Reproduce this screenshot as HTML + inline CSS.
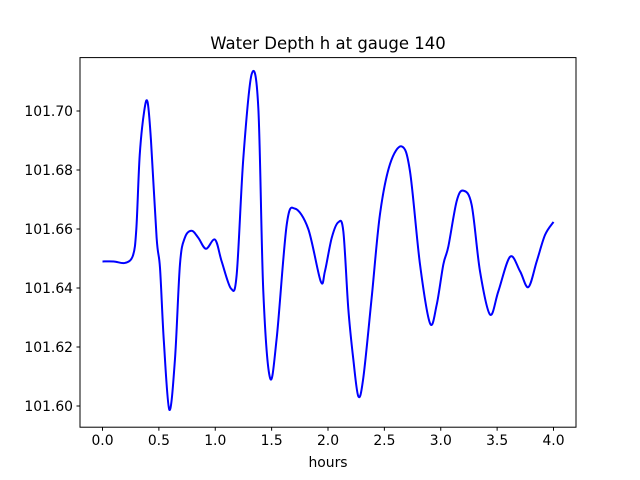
<!DOCTYPE html>
<html><head><meta charset="utf-8"><style>
body{margin:0;background:#fff}
svg{display:block;font-family:"DejaVu Sans","Liberation Sans",sans-serif}
</style></head><body>
<svg id="chart" width="640" height="480" viewBox="0 0 640 480">
<rect width="640" height="480" fill="#fff"/>
<text x="328" y="49" font-size="16.5" text-anchor="middle">Water Depth h at gauge 140</text>
<g id="xticks"></g>
<g id="yticks"></g>
<path id="line" fill="none" stroke="#0000ff" stroke-width="2"/>
<rect x="80" y="57.6" width="496" height="369.6" fill="none" stroke="#000" stroke-width="1"/>
<text x="328" y="467" font-size="13.9" text-anchor="middle">hours</text>
</svg>
<script>
const xTicks=[0,0.5,1,1.5,2,2.5,3,3.5,4];
const xTickLabels=["0.0","0.5","1.0","1.5","2.0","2.5","3.0","3.5","4.0"];
const yTicks=[101.60,101.62,101.64,101.66,101.68,101.70];
const yTickLabels=["101.60","101.62","101.64","101.66","101.68","101.70"];
const times=[0,0.1,0.2,0.27,0.3,0.33,0.37,0.40,0.43,0.48,0.51,0.544,0.593,0.643,0.687,0.73,0.79,0.85,0.918,0.998,1.057,1.14,1.19,1.249,1.323,1.382,1.426,1.486,1.545,1.634,1.707,1.825,1.935,1.973,2.033,2.092,2.136,2.18,2.224,2.269,2.313,2.387,2.461,2.55,2.654,2.727,2.816,2.905,2.964,3.023,3.067,3.141,3.2,3.274,3.348,3.437,3.511,3.615,3.703,3.777,3.851,3.925,4.0];
const depths=[101.649,101.649,101.6485,101.651,101.660,101.685,101.700,101.703,101.690,101.657,101.6468,101.622,101.5987,101.616,101.648,101.657,101.6594,101.657,101.6533,101.6564,101.649,101.6398,101.6445,101.684,101.7125,101.701,101.639,101.6095,101.623,101.6615,101.6669,101.660,101.6423,101.6457,101.657,101.6623,101.6592,101.633,101.616,101.6033,101.6095,101.6366,101.665,101.682,101.688,101.6796,101.648,101.628,101.6343,101.648,101.654,101.6694,101.673,101.6682,101.6457,101.631,101.6389,101.6506,101.6457,101.6403,101.649,101.658,101.6624];
const X=t=>102.5+t*112.75;
const Y=v=>406-(v-101.6)*2950;
const NS="http://www.w3.org/2000/svg";
const xg=document.getElementById('xticks'),yg=document.getElementById('yticks');
xTicks.forEach((t,i)=>{
 const l=document.createElementNS(NS,'line');
 l.setAttribute('x1',X(t));l.setAttribute('x2',X(t));l.setAttribute('y1',427.2);l.setAttribute('y2',430.7);l.setAttribute('stroke','#000');
 
 
 xg.appendChild(l);
 const tx=document.createElementNS(NS,'text');
 tx.setAttribute('x',X(t));tx.setAttribute('y',445);tx.setAttribute('font-size','13.9');tx.setAttribute('text-anchor','middle');
 tx.textContent=xTickLabels[i];
 
 
 xg.appendChild(tx);
});
yTicks.forEach((v,i)=>{
 const l=document.createElementNS(NS,'line');
 l.setAttribute('x1',76.5);l.setAttribute('x2',80);l.setAttribute('y1',Y(v));l.setAttribute('y2',Y(v));l.setAttribute('stroke','#000');
 
 
 yg.appendChild(l);
 const tx=document.createElementNS(NS,'text');
 tx.setAttribute('x',73);tx.setAttribute('y',Y(v)+5);tx.setAttribute('font-size','13.9');tx.setAttribute('text-anchor','end');
 tx.textContent=yTickLabels[i];
 
 
 yg.appendChild(tx);
});
const P=times.map((t,i)=>[X(t),Y(depths[i])]);
let d='M'+P[0][0]+','+P[0][1];
for(let i=0;i<P.length-1;i++){
 const p0=P[Math.max(0,i-1)],p1=P[i],p2=P[i+1],p3=P[Math.min(P.length-1,i+2)];
 const c1=[p1[0]+(p2[0]-p0[0])/6,p1[1]+(p2[1]-p0[1])/6];
 const c2=[p2[0]-(p3[0]-p1[0])/6,p2[1]-(p3[1]-p1[1])/6];
 d+=' C'+c1.join(',')+' '+c2.join(',')+' '+p2.join(',');
}
document.getElementById('line').setAttribute('d',d);
</script>
</body></html>
